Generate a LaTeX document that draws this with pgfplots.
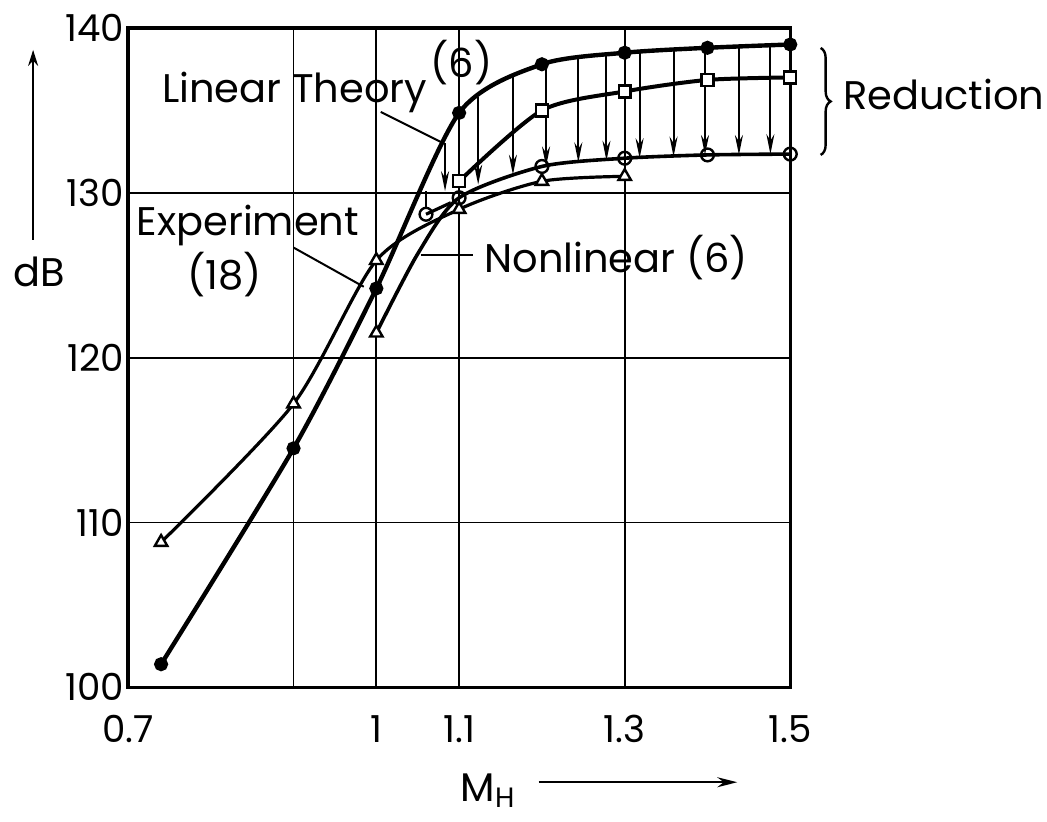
\documentclass[border=0pt]{standalone}
\usepackage{pgfplots}
\pgfplotsset{compat=1.18}
\usepackage{fontspec}
\setmainfont{Poppins}
\usetikzlibrary{arrows.meta,decorations.pathreplacing}
\begin{document}
\begin{tikzpicture}[font=\fontsize{10}{12}\selectfont]
\begin{axis}[
  scale only axis, width=165.75pt, height=165pt,
  xmin=0.7, xmax=1.5, ymin=100, ymax=140,
  xtick={0.7,0.9,1,1.1,1.3,1.5}, xticklabels={0.7,,1,1.1,1.3,1.5},
  ytick={100,110,120,130,140},
  grid=major, major grid style={black, line width=0.45pt},
  major tick length=0pt,
  axis line style={line width=0.8pt},
  clip=false,
  /pgf/number format/assume math mode=true,
  ticklabel style={font=\fontsize{9.3}{11}\selectfont},
  xticklabel style={yshift=-3.5pt},
  yticklabel style={xshift=2.5pt},
]
% invisible bounding region (image proportions)
\path (axis cs:0.5468,92.42) rectangle (axis cs:1.8101,141.7);

% reduction arrows (from linear theory down to nonlinear)
\addplot[quiver={u=0,v=\thisrow{v}}, -{Stealth[length=5pt,width=2pt]}, line width=0.5pt] table {
x      y      v
1.083  133.0  -2.9
1.123  135.8  -5.3
1.165  137.0  -5.9
1.205  137.8  -6.2
1.244  138.1  -6.25
1.278  138.35 -6.4
1.318  138.55 -6.45
1.359  138.7  -6.5
1.397  138.8  -6.5
1.438  138.9  -6.6
1.476  139.0  -6.65
};
\addplot[line width=0.5pt] coordinates {(1.06,130.1) (1.06,129.1)};

% Linear theory
\addplot[line width=1.1pt, smooth, tension=0.45, mark=*, mark size=1.2pt] coordinates {
(0.74,101.4) (0.9,114.5) (1.0,124.2) (1.1,134.85) (1.2,137.8) (1.3,138.5) (1.4,138.8) (1.5,139.0)};

% Experiment (18)
\addplot[line width=0.8pt, smooth, tension=0.45, mark=triangle*, mark size=1.8pt, mark options={fill=white, line width=0.6pt}] coordinates {
(0.74,108.8) (0.9,117.2) (1.0,125.9) (1.1,129.0) (1.2,130.7) (1.3,131.0)};

% Nonlinear (6)
\addplot[line width=0.9pt, smooth, tension=0.45] coordinates {
(1.0,121.5) (1.05,126.3) (1.1,129.7) (1.2,131.6) (1.3,132.1) (1.4,132.3) (1.5,132.35)};
\addplot[line width=0.8pt] coordinates {(1.06,128.7) (1.09,129.4)};
\addplot[only marks, mark=o, mark size=1.6pt, mark options={fill=white, line width=0.6pt}] coordinates {
(1.06,128.7) (1.1,129.7) (1.2,131.6) (1.3,132.1) (1.4,132.3) (1.5,132.35)};
\addplot[only marks, mark=triangle*, mark size=1.8pt, mark options={fill=white, line width=0.6pt}] coordinates {(1.0,121.5)};

% Squares curve
\addplot[line width=1.0pt, smooth, tension=0.45, mark=square*, mark size=1.5pt, mark options={fill=white, line width=0.6pt}] coordinates {
(1.1,130.7) (1.2,135.0) (1.3,136.15) (1.4,136.85) (1.5,137.0)};

% annotations
\node[anchor=base] at (axis cs:0.9015,135.45) {Linear Theory};
\node at (axis cs:1.103,137.88) {(6)};
\draw[line width=0.5pt] (axis cs:1.0053,134.91) -- (axis cs:1.080,133.03);
\node at (axis cs:0.8448,128.0) {Experiment};
\node at (axis cs:0.817,125.03) {(18)};
\draw[line width=0.5pt] (axis cs:0.9003,126.67) -- (axis cs:0.9848,124.30);
\node[anchor=west, inner sep=0pt] at (axis cs:1.1296,126.06) {Nonlinear (6)};
\draw[line width=0.5pt] (axis cs:1.0535,126.24) -- (axis cs:1.1163,126.24);
\node[anchor=west, inner sep=0pt] at (axis cs:1.5628,135.94) {Reduction};
\draw[line width=0.6pt, decorate, decoration={brace, amplitude=2.5pt}] (axis cs:1.5367,138.79) -- (axis cs:1.5367,132.30);
\node at (axis cs:0.5926,125.21) {dB};
\draw[line width=0.5pt, -{Stealth[length=4pt,width=2.5pt]}] (axis cs:0.5854,127.15) -- (axis cs:0.5854,138.67);
\node at (axis cs:1.1356,93.70) {M$_{\mathrm{H}}$};
\draw[line width=0.6pt, -{Stealth[length=5pt,width=2.5pt]}] (axis cs:1.196,94.24) -- (axis cs:1.436,94.24);
\end{axis}
\end{tikzpicture}
\end{document}
